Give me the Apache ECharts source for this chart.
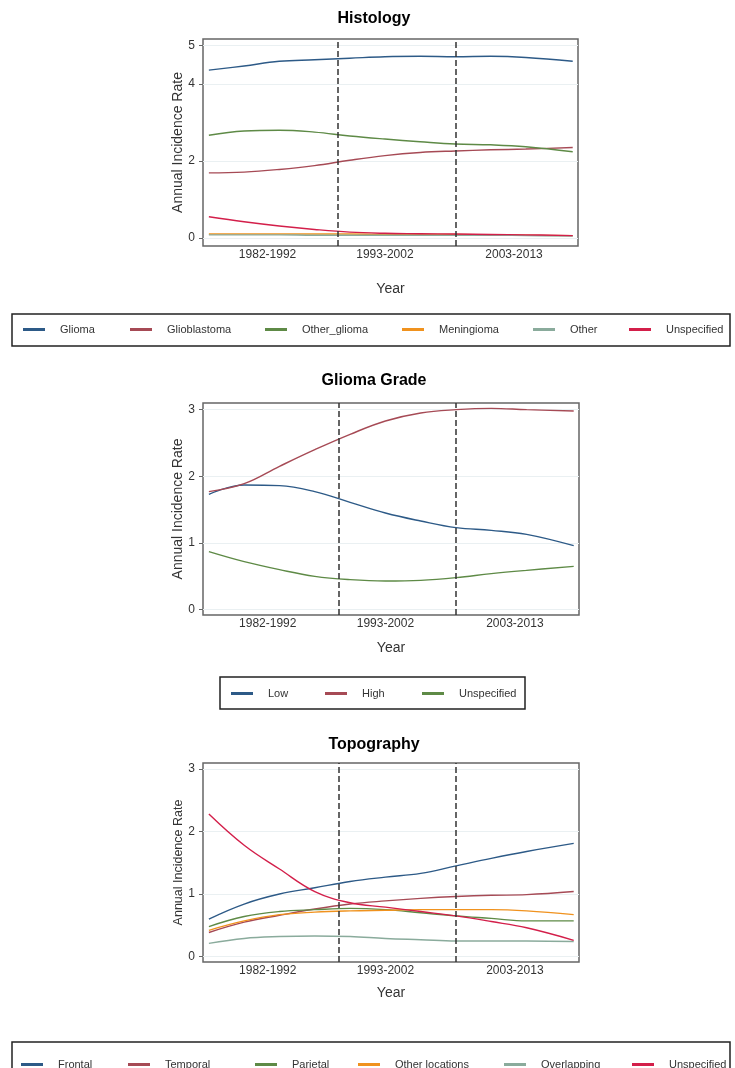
<!DOCTYPE html>
<html>
<head>
<meta charset="utf-8">
<script src="https://cdn.jsdelivr.net/npm/echarts@6/dist/echarts.min.js"></script>
<style>
  html, body { margin: 0; padding: 0; background: #ffffff; }
  #chart { width: 735px; height: 1068px; }
</style>
</head>
<body>
<div id="chart"></div>
<script>
// ---------- data ----------
const years = [1982, 1985, 1988, 1991, 1994, 1997, 2000, 2003, 2006, 2009, 2013];
const periodLabels = ['1982-1992', '1993-2002', '2003-2013'];
const periodCenters = [1987, 1997, 2008];
const dividers = [1993, 2003];

// Histology
const histNames = ['Glioma', 'Glioblastoma', 'Other_glioma', 'Meningioma', 'Other', 'Unspecified'];
const glioma       = [4.36, 4.47, 4.59, 4.63, 4.67, 4.71, 4.72, 4.71, 4.72, 4.69, 4.59];
const glioblastoma = [1.69, 1.71, 1.78, 1.88, 2.02, 2.14, 2.22, 2.26, 2.29, 2.31, 2.35];
const otherGlioma  = [2.67, 2.78, 2.80, 2.75, 2.65, 2.57, 2.50, 2.44, 2.42, 2.37, 2.24];
const meningioma   = [0.10, 0.10, 0.10, 0.10, 0.10, 0.09, 0.09, 0.09, 0.08, 0.07, 0.06];
const otherHist    = [0.08, 0.08, 0.08, 0.07, 0.07, 0.07, 0.07, 0.07, 0.07, 0.06, 0.05];
const unspecHist   = [0.55, 0.42, 0.31, 0.22, 0.15, 0.12, 0.11, 0.10, 0.09, 0.08, 0.06];
const histTicks = [0, 2, 4, 5];

// Glioma grade
const gradeNames = ['Low', 'High', 'Unspecified'];
const lowGrade    = [1.73, 1.87, 1.86, 1.77, 1.61, 1.45, 1.33, 1.23, 1.19, 1.13, 0.96];
const highGrade   = [1.77, 1.89, 2.15, 2.40, 2.63, 2.83, 2.95, 3.00, 3.02, 3.00, 2.98];
const unspecGrade = [0.87, 0.72, 0.60, 0.50, 0.45, 0.43, 0.44, 0.48, 0.54, 0.59, 0.65];
const gradeTicks = [0, 1, 2, 3];

// Topography
const topoNames = ['Frontal', 'Temporal', 'Parietal', 'Other locations', 'Overlapping', 'Unspecified'];
const frontal     = [0.60, 0.84, 1.00, 1.10, 1.20, 1.27, 1.33, 1.45, 1.57, 1.68, 1.81];
const temporal    = [0.385, 0.55, 0.66, 0.76, 0.84, 0.89, 0.93, 0.96, 0.98, 0.99, 1.04];
const parietal    = [0.48, 0.64, 0.72, 0.75, 0.77, 0.75, 0.70, 0.65, 0.61, 0.57, 0.57];
const otherLoc    = [0.42, 0.57, 0.67, 0.71, 0.73, 0.74, 0.75, 0.75, 0.75, 0.73, 0.67];
const overlapping = [0.21, 0.29, 0.32, 0.33, 0.32, 0.29, 0.27, 0.25, 0.25, 0.25, 0.24];
const unspecTopo  = [2.28, 1.78, 1.40, 1.04, 0.86, 0.79, 0.72, 0.65, 0.56, 0.46, 0.26];
const topoTicks = [0, 1, 2, 3];

// ---------- styling ----------
const C = {
  blue: '#2d5a87', red: '#a64a55', green: '#5e8a46',
  orange: '#f0921e', grey: '#8aab9c', crimson: '#d31f4a'
};
const FONT = '"Liberation Sans", Arial, sans-serif';

const panels = [
  { title: 'Histology', titleTop: 11, grid: { left: 203, width: 375, top: 39, height: 207 },
    yMin: -0.21, yMax: 5.17, ticks: histTicks, nameSize: 14, yearGap: 36,
    names: histNames, values: [glioma, glioblastoma, otherGlioma, meningioma, otherHist, unspecHist],
    colors: [C.blue, C.red, C.green, C.orange, C.grey, C.crimson],
    legendIcons: [23, 130, 265, 402, 533, 629], legendY: 331,
    box: { x: 12, y: 314, w: 718, h: 32 } },
  { title: 'Glioma Grade', titleTop: 373, grid: { left: 203, width: 376, top: 403, height: 212 },
    yMin: -0.08, yMax: 3.1, ticks: gradeTicks, nameSize: 14, yearGap: 26,
    names: gradeNames, values: [lowGrade, highGrade, unspecGrade],
    colors: [C.blue, C.red, C.green],
    legendIcons: [231, 325, 422], legendY: 695,
    box: { x: 220, y: 677, w: 305, h: 32 } },
  { title: 'Topography', titleTop: 737, grid: { left: 203, width: 376, top: 763, height: 199 },
    yMin: -0.087, yMax: 3.096, ticks: topoTicks, nameSize: 12.5, yearGap: 24,
    names: topoNames, values: [frontal, temporal, parietal, otherLoc, overlapping, unspecTopo],
    colors: [C.blue, C.red, C.green, C.orange, C.grey, C.crimson],
    legendIcons: [21, 128, 255, 358, 504, 632], legendY: 1066,
    box: { x: 12, y: 1042, w: 718, h: 40 } }
];

const option = {
  backgroundColor: '#ffffff',
  animation: false,
  textStyle: { fontFamily: FONT },
  title: [], grid: [], xAxis: [], yAxis: [], series: [], legend: [], graphic: []
};

panels.forEach((p, i) => {
  option.title.push({
    text: p.title, left: 374, top: p.titleTop, textAlign: 'center', padding: 0,
    textStyle: { fontFamily: FONT, fontSize: 16, fontWeight: 'bold', color: '#000' }
  });
  option.grid.push(Object.assign({
    show: true, borderColor: '#666', borderWidth: 1.5, backgroundColor: '#fff'
  }, p.grid));
  option.xAxis.push({
    type: 'value', gridIndex: i, min: 1981.5, max: 2013.45,
    name: 'Year', nameLocation: 'middle', nameGap: p.yearGap,
    nameTextStyle: { fontFamily: FONT, fontSize: 14, color: '#333' },
    axisLine: { show: false }, axisTick: { show: false }, splitLine: { show: false },
    axisLabel: {
      customValues: periodCenters, margin: 3, fontSize: 12, color: '#333', fontFamily: FONT,
      formatter: v => { const k = periodCenters.indexOf(v); return k >= 0 ? periodLabels[k] : ''; }
    }
  });
  option.yAxis.push({
    type: 'value', gridIndex: i, min: p.yMin, max: p.yMax,
    name: 'Annual Incidence Rate', nameLocation: 'middle', nameGap: 18, nameMoveOverlap: false,
    nameTextStyle: { fontFamily: FONT, fontSize: p.nameSize, color: '#333' },
    axisLine: { show: false },
    axisTick: { show: true, customValues: p.ticks, length: 4, lineStyle: { color: '#666' } },
    axisLabel: { customValues: p.ticks, margin: 8, fontSize: 12, color: '#333', fontFamily: FONT },
    splitLine: { show: true, lineStyle: { color: '#eaf0f2', width: 1 } }
  });
  p.names.forEach((name, j) => {
    const s = {
      name: name, type: 'line', xAxisIndex: i, yAxisIndex: i,
      data: years.map((y, k) => [y, p.values[j][k]]),
      smooth: 0.4, showSymbol: false, symbol: 'none',
      lineStyle: { color: p.colors[j], width: 1.4 },
      itemStyle: { color: p.colors[j] },
      z: 3
    };
    if (j === 0) {
      s.markLine = {
        silent: true, symbol: 'none', label: { show: false },
        lineStyle: { color: '#333', width: 1.5, type: [6, 3] },
        data: dividers.map(d => ({ xAxis: d }))
      };
    }
    option.series.push(s);
    option.legend.push({
      data: [{ name: name, itemStyle: { color: p.colors[j] } }],
      left: p.legendIcons[j], top: p.legendY - 7, padding: 0,
      icon: 'rect', itemWidth: 22, itemHeight: 3, selectedMode: false,
      textStyle: { fontFamily: FONT, fontSize: 11, color: '#333', padding: [0, 0, 0, 10] }
    });
  });
  option.graphic.push({
    type: 'rect', shape: { x: p.box.x, y: p.box.y, width: p.box.w, height: p.box.h },
    style: { fill: 'none', stroke: '#222', lineWidth: 1.5 }, z: -1
  });
});

const chart = echarts.init(document.getElementById('chart'), null, { renderer: 'canvas' });
chart.setOption(option);
</script>
</body>
</html>
